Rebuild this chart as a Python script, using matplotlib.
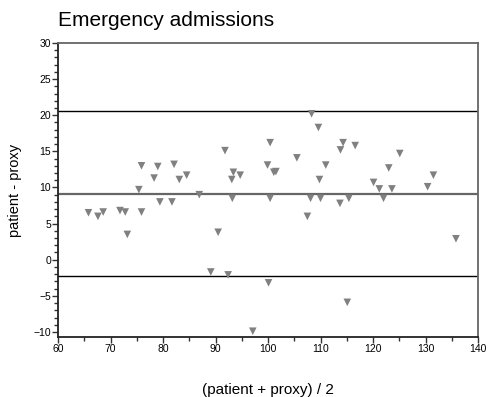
import matplotlib
matplotlib.use("Agg")
import matplotlib.pyplot as plt
from matplotlib.ticker import MultipleLocator

plt.rcParams['font.family'] = ['Liberation Sans', 'DejaVu Sans']

# mean of (patient, proxy) and their difference
mean_score = [108.3, 109.6, 91.8, 100.4, 114.3, 116.6, 113.8, 125.1, 105.5, 75.9,
              79.0, 82.1, 99.9, 111.0, 123.0, 78.3, 83.1, 84.5, 93.1, 93.4,
              94.7, 101.5, 101.1, 109.8, 120.1, 121.2, 123.6, 130.4, 131.5, 75.4,
              86.9, 93.2, 100.4, 108.1, 110.0, 113.7, 115.4, 122.0, 79.4, 81.7,
              65.8, 67.6, 68.6, 71.8, 72.8, 75.9, 73.2, 90.5, 107.5, 135.8,
              89.1, 92.4, 100.1, 115.1, 97.1]
diff_score = [20.2, 18.3, 15.1, 16.2, 16.2, 15.8, 15.2, 14.7, 14.1, 13.0,
              12.9, 13.2, 13.1, 13.1, 12.7, 11.3, 11.1, 11.7, 11.1, 12.1,
              11.7, 12.2, 12.1, 11.1, 10.7, 9.8, 9.8, 10.1, 11.7, 9.7,
              9.0, 8.5, 8.5, 8.5, 8.5, 7.8, 8.5, 8.5, 8.0, 8.0,
              6.5, 6.0, 6.6, 6.8, 6.6, 6.6, 3.5, 3.8, 6.0, 2.9,
              -1.7, -2.1, -3.2, -5.9, -9.9]

mean_diff = 9.1
upper_loa = 20.6
lower_loa = -2.3

fig = plt.figure(figsize=(4.93, 3.97), dpi=100)
ax = fig.add_axes([0.1177, 0.1511, 0.8519, 0.7406])

ax.scatter(mean_score, diff_score, marker='v', s=30, color='#808080',
           edgecolors='none', zorder=3)

# limits of agreement in black, mean difference in grey
ax.axhline(upper_loa, color='black', lw=1.0, zorder=2)
ax.axhline(lower_loa, color='black', lw=1.0, zorder=2)
ax.axhline(mean_diff, color='#666666', lw=1.6, zorder=2)

ax.set_xlim(60, 140)
ax.set_ylim(-10.7, 30)
ax.xaxis.set_major_locator(MultipleLocator(10))
ax.xaxis.set_minor_locator(MultipleLocator(5))
ax.yaxis.set_major_locator(MultipleLocator(5))
ax.yaxis.set_minor_locator(MultipleLocator(1))

for name, side in ax.spines.items():
    side.set_linewidth(1.3)
    side.set_color('#222222' if name in ('left', 'bottom') else '#666666')

ax.tick_params(which='major', length=4, width=1, color='#333333',
               labelsize=7.5, pad=1)
ax.tick_params(which='minor', length=3, width=1, color='#333333')

ax.set_title('Emergency admissions', loc='left', fontsize=15, pad=12)
ax.set_xlabel('(patient + proxy) / 2', fontsize=11, labelpad=21)
ax.set_ylabel('patient - proxy', fontsize=10.5, labelpad=8)

fig.savefig('out.png', dpi=100)
